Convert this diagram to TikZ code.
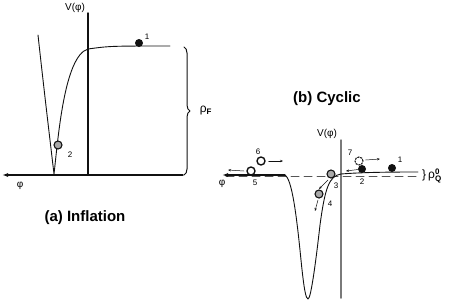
\documentclass[tikz,border=0pt]{standalone}
\usepackage{amsmath}
\usepackage{fontspec}
\setmainfont{Liberation Sans}
\usetikzlibrary{arrows.meta,decorations.pathreplacing}
\newcommand{\Unit}{1pt}
\newcommand{\Axis}{1.5pt}
\newcommand{\Curve}{0.9pt}
\newcommand{\Ball}{8pt}
\definecolor{ink}{HTML}{111111}
\definecolor{pebble}{HTML}{A8A8A8}
\definecolor{axisgray}{HTML}{7A7A7A}
\definecolor{dashgray}{HTML}{555555}

\tikzset{
  blackball/.style={circle,fill=ink,inner sep=0pt,minimum size=\Ball},
  grayball/.style={circle,fill=pebble,draw=ink,line width=1.1pt,inner sep=0pt,minimum size=\Ball},
  openball/.style={circle,fill=white,draw=ink,line width=1.4pt,inner sep=0pt,minimum size=\Ball},
  ghostball/.style={circle,draw=ink,dashed,dash pattern=on 1.5pt off 1.5pt,line width=1.1pt,inner sep=0pt,minimum size=\Ball},
  numlabel/.style={font=\fontsize{8}{9}\selectfont,inner sep=0pt},
  axislabel/.style={font=\fontsize{10}{12}\selectfont,inner sep=0pt},
  title/.style={font=\fontsize{15}{18}\selectfont\bfseries,inner sep=0pt},
  nudge/.style={ink,line width=0.5pt,-{Stealth[length=3pt,width=2.4pt]}}
}

\begin{document}
\begin{tikzpicture}[x=\Unit,y=-\Unit, line join=round, line cap=round]
  \useasboundingbox (0,0) rectangle (450,301);

  % ---- (a) inflation: axes ------------------------------------------------
  \draw[ink,line width=\Axis] (88,13) -- (88,175);
  \draw[ink,line width=1.2pt,-{Latex[length=6pt,width=4pt]}] (183,175) -- (2,175);
  \node[axislabel] (Va) at (75,8) {V(φ)};
  \node[axislabel] (phia) at (20,186) {φ};

  % ---- (a) potential: steep well, then a long plateau ---------------------
  \draw[ink,line width=\Curve] (38,35) .. controls (44,90) and (50,140) .. (54,174)
    .. controls (58,140) and (64,56) .. (88,49)
    .. controls (110,46) .. (170,46);
  \node[blackball] (a1) at (139,43) {};
  \node[numlabel] (la1) at (147,37) {1};
  \node[grayball] (a2) at (58,145) {};
  \node[numlabel] (la2) at (70,155) {2};

  % The brace spans the plateau height down to the axis.
  \draw[ink,line width=1pt,decorate,decoration={brace,amplitude=6pt}]
    (184,47) -- (184,175);
  \node[font=\fontsize{12}{14}\selectfont,inner sep=0pt] (rhoF) at (206,111)
    {ρ$_{\text{\bfseries F}}$};

  \node[title] (ta) at (85,218) {(a) Inflation};

  % ---- (b) cyclic: axes ---------------------------------------------------
  \node[title] (tb) at (327,99) {(b) Cyclic};
  \draw[axisgray,line width=\Axis] (341,140) -- (341,298);
  \node[axislabel] (Vb) at (327,134) {V(φ)};
  \node[axislabel] (phib) at (222,184) {φ};
  \draw[dashgray,line width=1pt,dash pattern=on 8pt off 5pt] (226,176) -- (420,176);
  \node[font=\fontsize{12}{14}\selectfont,inner sep=0pt,anchor=west] (rhoQ) at (422,176)
    {\}\,ρ$^{\text{\bfseries 0}}_{\text{\bfseries Q}}$};

  % ---- (b) potential: flat, deep narrow well, flat again ------------------
  \draw[ink,line width=\Curve] (284,175)
    .. controls (292,175) and (297,220) .. (301,260)
    .. controls (304,290) and (306,299) .. (308,299)
    .. controls (311,299) and (316,260) .. (320,225)
    .. controls (325,188) and (329,176) .. (341,174)
    .. controls (365,172) and (400,172) .. (418,172);
  \draw[ink,line width=1.3pt,-{Latex[length=6pt,width=4pt]}] (285,175) -- (222,175);

  % ---- (b) the field's cycle, stations 1 to 7 -----------------------------
  \node[blackball] (b1) at (392,168) {};
  \node[numlabel] (lb1) at (400,160) {1};
  \node[blackball] (b2) at (362,169) {};
  \node[numlabel] (lb2) at (362,182) {2};
  \node[grayball] (b3) at (331,174) {};
  \node[numlabel] (lb3) at (336,186) {3};
  \node[grayball] (b4) at (319,194) {};
  \node[numlabel] (lb4) at (330,204) {4};
  \node[openball] (b5) at (251,171) {};
  \node[numlabel] (lb5) at (255,183) {5};
  \node[openball] (b6) at (261,161) {};
  \node[numlabel] (lb6) at (258,152) {6};
  \node[ghostball] (b7) at (359,161) {};
  \node[numlabel] (lb7) at (350,153) {7};

  \coordinate (m2) at (346,171);
  \coordinate (m7) at (380,159);
  \coordinate (m4) at (315,211);
  \coordinate (m5) at (228,170);
  \coordinate (m6) at (283,161);
  \draw[nudge] (b2) -- (m2);
  \draw[nudge] (b7.east) ++(2,-1) -- (m7);
  \draw[nudge] (b3) ++(-3,6) .. controls (325,183) .. (319,189);
  \draw[nudge] (b4) ++(-1,6) -- (m4);
  \draw[nudge] (b5) ++(-7,0) -- (m5);
  \draw[nudge] (b6.east) ++(3,0) -- (m6);

\end{tikzpicture}
\end{document}
